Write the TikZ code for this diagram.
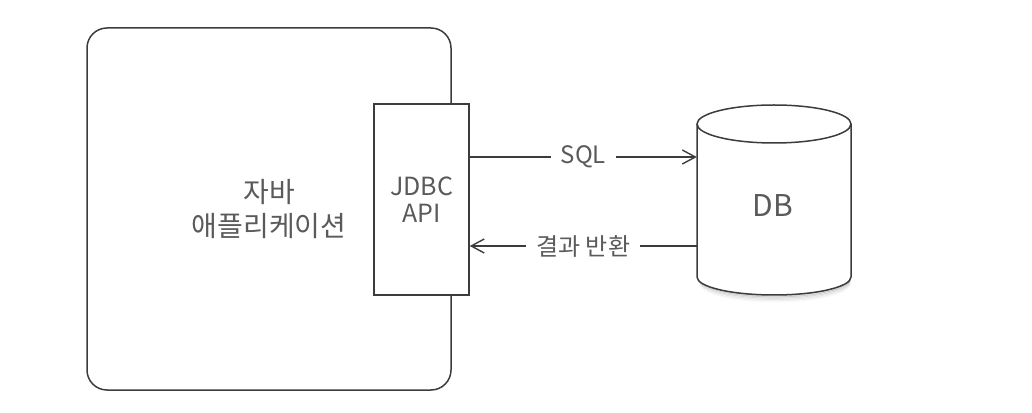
\documentclass[tikz,border=0pt]{standalone}
\usepackage{fontspec}
\setmainfont{Noto Sans CJK KR}
\usetikzlibrary{arrows.meta}
\definecolor{linec}{HTML}{3C3C3C}
\definecolor{textc}{HTML}{5A5A5A}
\tikzset{
  appbox/.style={draw=linec, line width=1.5pt, rounded corners=20pt, minimum width=364pt, minimum height=362pt, inner sep=0pt},
  apibox/.style={draw=linec, fill=white, line width=1.5pt, minimum width=95pt, minimum height=191pt, inner sep=0pt, align=center},
  kotxt/.style={text=textc, font=\fontsize{28}{34}\selectfont, align=center},
  entxt/.style={text=textc, font=\fontsize{25}{27}\selectfont, align=center},
  conn/.style={draw=linec, line width=1.4pt, -{Straight Barb[length=13pt,width=14pt,line width=1.4pt]}},
  lbl/.style={fill=white, inner xsep=10pt, inner ysep=2pt, text=textc, font=\fontsize{24}{28}\selectfont},
  cyl/.style={draw=linec, line width=1.5pt}
}
\begin{document}
\begin{tikzpicture}[x=1pt,y=1pt]
\useasboundingbox (0,0) rectangle (1032,412);
% application box
\node[appbox, kotxt] (app) at (269,203) {자바\\애플리케이션};
% JDBC API box
\node[apibox, entxt] (api) at (421.5,212.5) {JDBC\\API};
% DB cylinder
\foreach \i/\o in {1/0.12,2/0.09,3/0.06,4/0.04,5/0.02}{
  \draw[black, opacity=\o, line width=2pt] (700,{135-\i*1.3}) arc[start angle=180, end angle=360, x radius=75, y radius=18];
}
\fill[white] (697,288) -- (697,135) arc[start angle=180, end angle=360, x radius=77, y radius=18] -- (851,288) -- cycle;
\draw[cyl] (697,288) -- (697,135) arc[start angle=180, end angle=360, x radius=77, y radius=18] -- (851,288);
\draw[cyl, fill=white] (774,288) ellipse[x radius=77, y radius=19];
\node[minimum width=154pt, minimum height=191pt, inner sep=0pt] (db) at (774,212.5) {};
\node[text=textc, font=\fontsize{30}{34}\selectfont] (dbtxt) at (773,206) {DB};
% connectors
\draw[conn] ([yshift=42.5pt]api.east) -- node[lbl]{SQL} ([yshift=42.5pt]db.west);
\draw[conn] ([yshift=-46.5pt]db.west) -- node[lbl]{결과 반환} ([yshift=-46.5pt]api.east);
\end{tikzpicture}
\end{document}
